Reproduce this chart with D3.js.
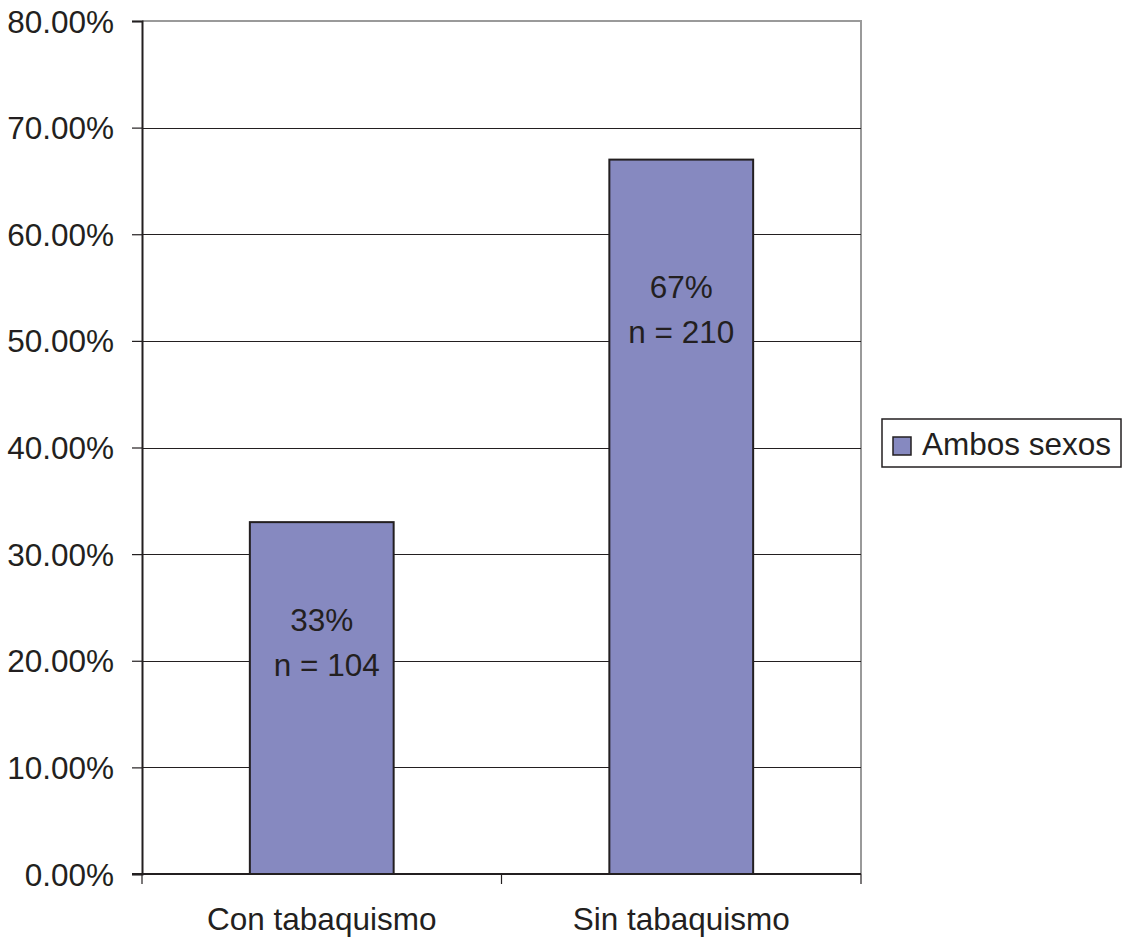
<!DOCTYPE html>
<html>
<head>
<meta charset="utf-8">
<script src="https://cdn.jsdelivr.net/npm/d3@7"></script>
<style>
  html, body { margin: 0; padding: 0; background: #fff; }
  svg { display: block; font-family: "Liberation Sans", Arial, sans-serif; }
</style>
</head>
<body>
<svg id="chart" width="1122" height="940"></svg>
<script>
// Smoking status, both sexes
const categories = ["Con tabaquismo", "Sin tabaquismo"];
const values = [33, 67];            // percent
const counts = [104, 210];          // n per group
const seriesName = "Ambos sexos";
const yTicks = [0, 10, 20, 30, 40, 50, 60, 70, 80];

const ink = "#231f20";
const barFill = "#8689c0";
const fontSize = 31.5;

const svg = d3.select("#chart");
const plot = { left: 142, right: 861, top: 21, bottom: 874 };

const x = d3.scaleBand().domain(categories)
  .range([plot.left, plot.right]).paddingInner(0.6).paddingOuter(0.3);
const y = d3.scaleLinear().domain([0, 80]).range([plot.bottom, plot.top]);

// Plot area border (top / right in grey)
svg.append("path")
  .attr("d", `M${plot.left},${plot.top}H${plot.right}V${plot.bottom}`)
  .attr("fill", "none").attr("stroke", "#9a9a9a").attr("stroke-width", 2);

// Horizontal gridlines
svg.append("g").selectAll("line")
  .data(yTicks.filter(t => t > 0 && t < 80))
  .join("line")
  .attr("x1", plot.left).attr("x2", plot.right)
  .attr("y1", d => Math.round(y(d)) + 0.5).attr("y2", d => Math.round(y(d)) + 0.5)
  .attr("stroke", ink).attr("stroke-width", 1);

// Bars
svg.append("g").selectAll("rect")
  .data(categories)
  .join("rect")
  .attr("x", d => x(d))
  .attr("y", (d, i) => y(values[i]))
  .attr("width", x.bandwidth())
  .attr("height", (d, i) => y(0) - y(values[i]))
  .attr("fill", barFill).attr("stroke", ink).attr("stroke-width", 2);

// Y axis
const yAxis = svg.append("g")
  .attr("transform", `translate(${plot.left},0)`)
  .call(d3.axisLeft(y).tickValues(yTicks).tickFormat(d => d.toFixed(2) + "%")
    .tickSize(10).tickPadding(18));
yAxis.select(".domain").attr("stroke", ink).attr("stroke-width", 2);
yAxis.selectAll(".tick line").attr("stroke", ink).attr("stroke-width", 1.2);
yAxis.selectAll(".tick text").attr("fill", ink).attr("font-size", fontSize)
  .attr("font-family", "Liberation Sans, Arial, sans-serif").attr("dy", "0.35em");

// X axis: category boundaries get the tick marks
const xAxis = svg.append("g").attr("transform", `translate(0,${plot.bottom})`);
xAxis.append("line").attr("x1", plot.left - 10).attr("x2", plot.right)
  .attr("stroke", ink).attr("stroke-width", 2);
const step = x.step();
xAxis.selectAll("line.tk")
  .data(d3.range(categories.length + 1))
  .join("line").attr("class", "tk")
  .attr("x1", i => plot.left + i * step).attr("x2", i => plot.left + i * step)
  .attr("y1", 0).attr("y2", 10).attr("stroke", ink).attr("stroke-width", 1.2);
xAxis.selectAll("text")
  .data(categories)
  .join("text")
  .attr("x", d => x(d) + x.bandwidth() / 2)
  .attr("y", 56)
  .attr("text-anchor", "middle").attr("fill", ink).attr("font-size", fontSize)
  .text(d => d);

// Value labels inside bars
const labelDrop = [109, 138];
const labels = svg.append("g").attr("fill", ink).attr("font-size", fontSize)
  .attr("text-anchor", "middle");
categories.forEach((c, i) => {
  const cx = x(c) + x.bandwidth() / 2;
  const base = y(values[i]) + labelDrop[i];
  labels.append("text").attr("x", cx).attr("y", base).text(values[i] + "%");
  labels.append("text").attr("x", cx + (i === 0 ? 5 : 0)).attr("y", base + 45)
    .text("n = " + counts[i]);
});

// Legend
const lg = svg.append("g").attr("transform", "translate(882,419)");
lg.append("rect").attr("width", 239).attr("height", 48)
  .attr("fill", "#fff").attr("stroke", ink).attr("stroke-width", 1.5);
lg.append("rect").attr("x", 11).attr("y", 18).attr("width", 18).attr("height", 18)
  .attr("fill", barFill).attr("stroke", ink).attr("stroke-width", 1.5);
lg.append("text").attr("x", 40).attr("y", 36).attr("fill", ink)
  .attr("font-size", fontSize).text(seriesName);
</script>
</body>
</html>
